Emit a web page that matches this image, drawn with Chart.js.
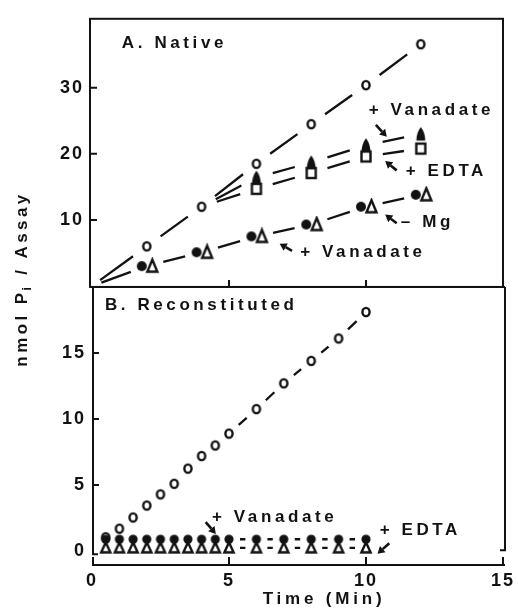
<!DOCTYPE html>
<html>
<head>
<meta charset="utf-8">
<script src="https://cdn.jsdelivr.net/npm/chart.js@4.4.1/dist/chart.umd.min.js"></script>
<style>
  html, body { margin: 0; padding: 0; background: #fff; }
</style>
</head>
<body>
<canvas id="chart" width="518" height="609"></canvas>
<script>
// Panel A - native enzyme (nmol Pi per assay against time in min)
const timeA = [0, 2, 4, 6, 8, 10, 12]
const controlA = [0, 6.0, 12.0, 18.5, 24.5, 30.4, 36.6]
const timeAdded = [4, 6, 8, 10, 12]
const vanadateAddedA = [12.0, 16.4, 18.7, 21.3, 23.0]
const edtaAddedA = [12.0, 14.7, 17.1, 19.6, 20.8]
const vanadateA = [0, 3.0, 5.1, 7.5, 9.3, 12.0, 13.8]
const noMgA = [0, 3.0, 5.1, 7.5, 9.3, 12.0, 13.8]

// Panel B - reconstituted
const timeB = [0.5, 1, 1.5, 2, 2.5, 3, 3.5, 4, 4.5, 5, 6, 7, 8, 9, 10]
const controlB = [1.05, 1.7, 2.55, 3.45, 4.3, 5.1, 6.25, 7.2, 8.0, 8.9, 10.75, 12.7, 14.4, 16.1, 18.1]
const vanadateB = [0.9, 0.9, 0.9, 0.9, 0.9, 0.9, 0.9, 0.9, 0.9, 0.9, 0.9, 0.9, 0.9, 0.9, 0.9]
const edtaB = [0.25, 0.25, 0.25, 0.25, 0.25, 0.25, 0.25, 0.25, 0.25, 0.25, 0.25, 0.25, 0.25, 0.25, 0.25]

// tick labels
const ticksX = [0, 5, 10, 15]
const ticksA = [10, 20, 30]
const ticksB = [0, 5, 10, 15]

// labels written on the panels (data coordinates of the panel they sit in)
const notes = [
  { axis: 'yA', text: 'A. Native', x: 1.09, y: 36.7 },
  { axis: 'yA', text: '+ Vanadate', x: 10.1, y: 26.6 },
  { axis: 'yA', text: '+ EDTA', x: 11.45, y: 17.4 },
  { axis: 'yA', text: '\u2013 Mg', x: 11.27, y: 9.6 },
  { axis: 'yA', text: '+ Vanadate', x: 7.6, y: 5.1 },
  { axis: 'yB', text: 'B. Reconstituted', x: 0.47, y: 18.6 },
  { axis: 'yB', text: '+ Vanadate', x: 4.38, y: 2.55 },
  { axis: 'yB', text: '+ EDTA', x: 10.5, y: 1.6 }
]
// arrows: from tail to head
const arrows = [
  { axis: 'yA', x0: 10.36, y0: 24.4, x1: 10.76, y1: 22.6 },
  { axis: 'yA', x0: 11.12, y0: 17.5, x1: 10.7, y1: 18.9 },
  { axis: 'yA', x0: 11.12, y0: 9.5, x1: 10.7, y1: 10.8 },
  { axis: 'yA', x0: 7.3, y0: 5.3, x1: 6.85, y1: 6.4 },
  { axis: 'yB', x0: 4.15, y0: 2.2, x1: 4.52, y1: 1.3 },
  { axis: 'yB', x0: 10.85, y0: 0.6, x1: 10.42, y1: -0.2 }
]

const INK = '#121212'
const FONT = '"Liberation Sans", Arial, sans-serif'

function glyph(w, h, paint) {
  const c = document.createElement('canvas')
  c.width = w
  c.height = h
  const g = c.getContext('2d')
  g.fillStyle = INK
  g.strokeStyle = INK
  g.lineWidth = 2.4
  paint(g)
  return c
}

// marker shapes
const ring = glyph(14, 14, g => { g.beginPath(); g.ellipse(7, 7, 3.6, 4.1, 0, 0, Math.PI * 2); g.stroke() })
const dotLeft = glyph(26, 16, g => { g.beginPath(); g.arc(8, 8, 5, 0, Math.PI * 2); g.fill() })
const triRight = glyph(26, 18, g => {
  g.beginPath(); g.moveTo(18.5, 2.5); g.lineTo(23.5, 14.5); g.lineTo(13.5, 14.5); g.closePath(); g.stroke()
})
const bullet = glyph(14, 18, g => {
  g.beginPath(); g.moveTo(7, 2)
  g.quadraticCurveTo(11.4, 7.5, 11.4, 15.5); g.lineTo(2.6, 15.5)
  g.quadraticCurveTo(2.6, 7.5, 7, 2); g.fill()
})
const box = glyph(16, 16, g => { g.strokeRect(3.5, 3, 9, 10) })
const dotSmall = glyph(14, 14, g => { g.beginPath(); g.arc(7, 7, 4.6, 0, Math.PI * 2); g.fill() })
const triSmall = glyph(16, 16, g => {
  g.beginPath(); g.moveTo(8, 2.5); g.lineTo(12.6, 12.5); g.lineTo(3.4, 12.5); g.closePath(); g.stroke()
})

const pts = (xs, ys) => xs.map((x, i) => ({ x: x, y: ys[i] }))
// first point of a line is only where the line starts, no marker there
const radii = (xs, skipFirst) => xs.map((x, i) => (skipFirst && i === 0 ? 0 : 5))

const datasets = [
  { label: 'Control A', yAxisID: 'yA', data: pts(timeA, controlA), pointStyle: ring, pointRadius: radii(timeA, true), gap: 17, startGap: 10 },
  { label: '+ Vanadate A', yAxisID: 'yA', data: pts(timeAdded, vanadateAddedA), pointStyle: bullet, pointRadius: radii(timeAdded, true), gap: 17, startGap: 16 },
  { label: '+ EDTA A', yAxisID: 'yA', data: pts(timeAdded, edtaAddedA), pointStyle: box, pointRadius: radii(timeAdded, true), gap: 17, startGap: 16 },
  { label: '+ Vanadate (start) A', yAxisID: 'yA', data: pts(timeA, vanadateA), pointStyle: dotLeft, pointRadius: radii(timeA, true), gap: 17, startGap: 10 },
  { label: '- Mg A', yAxisID: 'yA', data: pts(timeA, noMgA), pointStyle: triRight, pointRadius: radii(timeA, true) },
  { label: 'Control B', yAxisID: 'yB', data: pts(timeB, controlB), pointStyle: ring, pointRadius: radii(timeB, false), gap: 13 },
  { label: '+ Vanadate B', yAxisID: 'yB', data: pts(timeB, vanadateB), pointStyle: dotSmall, pointRadius: radii(timeB, false), gap: 11 },
  { label: '+ EDTA B', yAxisID: 'yB', data: pts(timeB, edtaB), pointStyle: triSmall, pointRadius: radii(timeB, false), gap: 11 }
]

function fixTicks(list) {
  return scale => { scale.ticks = list.map(v => ({ value: v })) }
}

const tickFont = { family: FONT, size: 18, weight: 'bold' }

function drawText(ctx, text, x, y, spacing) {
  ctx.letterSpacing = spacing + 'px'
  ctx.fillText(text, x, y)
}

function arrow(ctx, x0, y0, x1, y1) {
  const a = Math.atan2(y1 - y0, x1 - x0)
  const L = 7, W = 4.2
  const bx = x1 - L * Math.cos(a), by = y1 - L * Math.sin(a)
  ctx.beginPath()
  ctx.moveTo(x0, y0)
  ctx.lineTo(bx, by)
  ctx.lineWidth = 2.6
  ctx.stroke()
  ctx.beginPath()
  ctx.moveTo(x1, y1)
  ctx.lineTo(bx + W * Math.sin(a), by - W * Math.cos(a))
  ctx.lineTo(bx - W * Math.sin(a), by + W * Math.cos(a))
  ctx.closePath()
  ctx.fill()
}

const figure = {
  id: 'figure',
  beforeDraw(chart) {
    chart.ctx.letterSpacing = '2px'
  },
  beforeDatasetsDraw(chart) {
    const ctx = chart.ctx
    const { left, right, top, bottom } = chart.chartArea
    const x = chart.scales.x, yA = chart.scales.yA, yB = chart.scales.yB
    const mid = yA.bottom
    ctx.save()
    ctx.strokeStyle = INK
    ctx.fillStyle = INK
    ctx.lineWidth = 2
    ctx.lineCap = 'butt'

    // panel A box
    ctx.strokeRect(left - 2, top, right - left + 2, mid - top)
    // panel B sides
    const zeroB = yB.getPixelForValue(0)
    ctx.beginPath()
    ctx.moveTo(left + 1, mid); ctx.lineTo(left + 1, zeroB + 3); ctx.lineTo(left + 6, zeroB + 3)
    ctx.moveTo(right + 2, mid); ctx.lineTo(right + 2, zeroB - 1); ctx.lineTo(right - 3, zeroB - 1)
    ctx.moveTo(left - 2, mid); ctx.lineTo(right + 2, mid)
    ctx.stroke()

    // time axis below panel B
    ctx.beginPath()
    ctx.moveTo(left + 1, bottom); ctx.lineTo(right + 2, bottom)
    ticksX.forEach(v => {
      const px = Math.min(Math.max(x.getPixelForValue(v), left + 1), right + 2)
      ctx.moveTo(px, bottom + 1); ctx.lineTo(px, bottom - 8)
    })
    // time ticks at foot of panel A
    ticksX.slice(1, 3).forEach(v => {
      const px = x.getPixelForValue(v)
      ctx.moveTo(px, mid); ctx.lineTo(px, mid - 7)
    })
    // value ticks, pointing in
    ticksA.forEach(v => {
      const py = yA.getPixelForValue(v)
      ctx.moveTo(left - 2, py); ctx.lineTo(left + 5, py)
    })
    ticksB.slice(1).forEach(v => {
      const py = yB.getPixelForValue(v)
      ctx.moveTo(left + 1, py); ctx.lineTo(left + 7, py)
    })
    ctx.stroke()

    // broken connecting lines, stopping short of each marker
    ctx.lineWidth = 2.3
    chart.data.datasets.forEach((ds, i) => {
      if (!ds.gap) return
      const el = chart.getDatasetMeta(i).data
      ctx.beginPath()
      for (let k = 0; k < el.length - 1; k++) {
        const a = el[k], b = el[k + 1]
        const ga = ds.pointRadius[k] === 0 ? ds.startGap : ds.gap
        const gb = ds.gap
        const dx = b.x - a.x, dy = b.y - a.y
        const len = Math.hypot(dx, dy)
        if (len - ga - gb < 2) continue
        const ux = dx / len, uy = dy / len
        ctx.moveTo(a.x + ux * ga, a.y + uy * ga)
        ctx.lineTo(b.x - ux * gb, b.y - uy * gb)
      }
      ctx.stroke()
    })
    ctx.restore()
  },
  afterDatasetsDraw(chart) {
    const ctx = chart.ctx
    const x = chart.scales.x
    ctx.save()
    ctx.fillStyle = INK
    ctx.strokeStyle = INK
    ctx.font = 'bold 17px ' + FONT
    ctx.textBaseline = 'middle'
    ctx.textAlign = 'left'
    notes.forEach(n => {
      const y = chart.scales[n.axis]
      drawText(ctx, n.text, x.getPixelForValue(n.x), y.getPixelForValue(n.y), 3.6)
    })
    arrows.forEach(a => {
      const y = chart.scales[a.axis]
      arrow(ctx, x.getPixelForValue(a.x0), y.getPixelForValue(a.y0), x.getPixelForValue(a.x1), y.getPixelForValue(a.y1))
    })

    // axis titles
    ctx.textAlign = 'center'
    drawText(ctx, 'Time (Min)', 324, 599, 3.8)

    ctx.translate(22, 279)
    ctx.rotate(-Math.PI / 2)
    ctx.textAlign = 'left'
    ctx.letterSpacing = '3.4px'
    const big = 'bold 17px ' + FONT, small = 'bold 12px ' + FONT
    ctx.font = big
    const w1 = ctx.measureText('nmol P').width
    const w3 = ctx.measureText(' / Assay').width
    ctx.font = small
    const w2 = ctx.measureText('i').width
    let cx = -(w1 + w2 + w3) / 2
    ctx.font = big
    ctx.fillText('nmol P', cx, 0)
    cx += w1
    ctx.font = small
    ctx.fillText('i', cx - 1, 6)
    cx += w2
    ctx.font = big
    ctx.fillText(' / Assay', cx, 0)
    ctx.restore()
  }
}

new Chart(document.getElementById('chart'), {
  type: 'scatter',
  data: { datasets: datasets },
  options: {
    responsive: false,
    devicePixelRatio: 1,
    animation: false,
    events: [],
    layout: { padding: { left: 0, right: 12, top: 15, bottom: 0 } },
    elements: { point: { borderWidth: 0 } },
    plugins: { legend: { display: false }, tooltip: { enabled: false } },
    scales: {
      x: {
        type: 'linear', position: 'bottom', min: 0, max: 15,
        grid: { display: false, drawTicks: false }, border: { display: false },
        ticks: { font: tickFont, color: INK, padding: 5, maxRotation: 0, autoSkip: false },
        afterBuildTicks: fixTicks(ticksX),
        afterFit: s => { s.height = 44 }
      },
      yB: {
        type: 'linear', position: 'left', stack: 'panels', stackWeight: 280, min: -1.05, max: 20.0,
        grid: { display: false, drawTicks: false }, border: { display: false },
        ticks: { font: tickFont, color: INK, padding: 6 },
        afterBuildTicks: fixTicks(ticksB),
        afterFit: s => { s.width = 92 }
      },
      yA: {
        type: 'linear', position: 'left', stack: 'panels', stackWeight: 270, min: -0.15, max: 40.45,
        grid: { display: false, drawTicks: false }, border: { display: false },
        ticks: { font: tickFont, color: INK, padding: 8 },
        afterBuildTicks: fixTicks(ticksA),
        afterFit: s => { s.width = 92 }
      }
    }
  },
  plugins: [figure]
})
</script>
</body>
</html>
